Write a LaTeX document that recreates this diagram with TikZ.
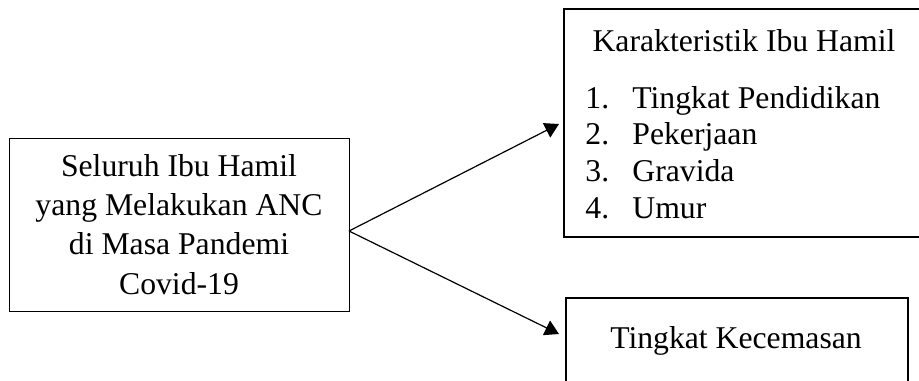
\documentclass[tikz,border=0pt]{standalone}
\usepackage{fontspec}
\setmainfont{Liberation Serif}
\usetikzlibrary{arrows.meta}
\begin{document}
\begin{tikzpicture}[x=0.5pt,y=-0.5pt,
  txt/.style={font=\fontsize{15.85pt}{19.65pt}\selectfont, inner sep=0pt},
  thinbox/.style={draw, line width=0.5pt, inner sep=0pt},
  thickbox/.style={draw, line width=1.2pt, inner sep=0pt},
  conn/.style={line width=0.6pt, -{Triangle[length=7pt,width=8pt]}}]
\useasboundingbox (0,0) rectangle (919,380);
\clip (0,0) rectangle (919,380);
\node[thinbox, txt, align=center, minimum width=170pt, minimum height=86.5pt] (src) at (179,224.5)
  {Seluruh Ibu Hamil\\yang Melakukan ANC\\di Masa Pandemi\\Covid-19};
\node[thickbox, minimum width=181pt, minimum height=114pt, anchor=north west] (kar) at (563,8) {};
\node[txt, anchor=base] (kart) at (744,51) {Karakteristik Ibu Hamil};
\node[txt, anchor=base west] (karl) at (585,108)
  {\fontsize{15.85pt}{18.35pt}\selectfont\begin{tabular}[t]{@{}p{23.5pt}@{}l@{}}1.&Tingkat Pendidikan\\2.&Pekerjaan\\3.&Gravida\\4.&Umur\end{tabular}};
\node[thickbox, line width=1pt, minimum width=171pt, minimum height=45pt, anchor=north west] (kec) at (565,297) {};
\node[txt, anchor=base] (kect) at (736,348) {Tingkat Kecemasan};
\coordinate (s) at (349,231);
\coordinate (t1) at (559,124);
\coordinate (t2) at (559,334);
\draw[conn] (s) -- (t1);
\draw[conn] (s) -- (t2);
\end{tikzpicture}
\end{document}
